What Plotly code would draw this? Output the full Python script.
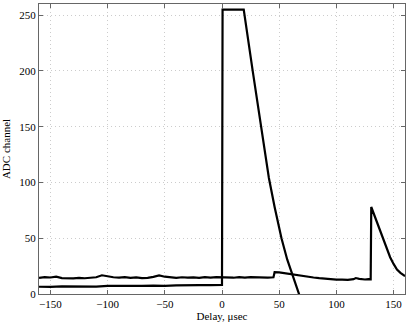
import plotly.graph_objects as go

# lower trace: saturated pulse starting at t=0
a_delay = [-160, -150, -140, -130, -120, -110, -100, -90, -80, -70, -60, -50, -40, -30, -20, -10, -1, 0,
           0.5, 19, 27, 33, 37, 41, 46, 52, 57, 62, 67, 70]
a_adc = [6.5, 6.3, 6.8, 6.6, 7.0, 6.7, 7.2, 7.0, 7.4, 7.2, 7.5, 7.3, 7.8, 7.6, 8.0, 7.9, 8.2, 8.2,
         255, 255, 199, 157, 130, 104, 78, 50, 31, 15, 0, -8]

# upper trace: baseline with small step at ~46 and pulse at ~130
b_delay = [-160, -155, -150, -145, -140, -135, -130, -125, -120, -115, -110, -105, -100, -95, -90,
           -85, -80, -75, -70, -65, -60, -55, -50, -45, -40, -35, -30, -25, -20, -15, -10, -5, 0,
           5, 10, 15, 20, 25, 30, 35, 40, 45, 46, 50, 55, 60, 65, 70, 75, 80, 85, 90, 95, 100,
           105, 110, 115, 117, 120, 125, 128, 130, 130.5, 133, 135, 138, 141, 144, 147, 150, 153,
           156, 160]
b_adc = [14.5, 15.2, 14.8, 15.5, 14.2, 13.8, 14.0, 14.4, 14.1, 14.6, 15.0, 16.8, 15.6, 15.0, 14.7,
         15.1, 14.4, 14.9, 14.3, 14.5, 15.4, 16.6, 15.5, 14.8, 14.4, 15.0, 14.6, 14.9, 14.5, 15.1,
         14.7, 15.2, 14.8, 15.0, 14.6, 15.1, 14.7, 15.2, 14.8, 14.9, 14.6, 15.0, 19.5, 19.3, 18.5,
         17.5, 16.6, 16.0, 15.3, 14.8, 14.2, 13.6, 13.2, 12.8, 12.9, 12.6, 13.3, 14.3, 13.6, 13.0,
         13.4, 13.2, 78, 71, 65, 57, 49, 41, 33, 27, 22, 19, 16]

serif = 'Liberation Serif, Times New Roman, serif'

fig = go.Figure()
for x, y in [(a_delay, a_adc), (b_delay, b_adc)]:
    fig.add_trace(go.Scatter(x=x, y=y, mode='lines', line=dict(color='black', width=2.2),
                             showlegend=False))

axis = dict(showline=True, mirror='ticks', linecolor='#666666', linewidth=1.2,
            ticks='inside', ticklen=4, tickcolor='#666666',
            showgrid=True, gridcolor='#cccccc', griddash='1px,3px', gridwidth=1,
            zeroline=False, tickfont=dict(family=serif, size=11, color='black'))

fig.update_xaxes(axis, range=[-160, 160], tickvals=[-150, -100, -50, 0, 50, 100, 150],
                 ticktext=['\u2212150', '\u2212100', '\u221250', '0', '50', '100', '150'],
                 title=dict(text='Delay, \u03bcsec', font=dict(family=serif, size=11), standoff=2))
fig.update_yaxes(axis, range=[0, 260], tickvals=[0, 50, 100, 150, 200, 250],
                 title=dict(text='ADC channel', font=dict(family=serif, size=11), standoff=9))

fig.update_layout(
    width=409, height=323,
    margin=dict(l=34, r=3, t=3, b=28),
    plot_bgcolor='white', paper_bgcolor='white',
    font=dict(family=serif, color='black'),
)

fig.write_html("out.html", config={'displayModeBar': False},
               post_script="document.body.style.margin='0';")
